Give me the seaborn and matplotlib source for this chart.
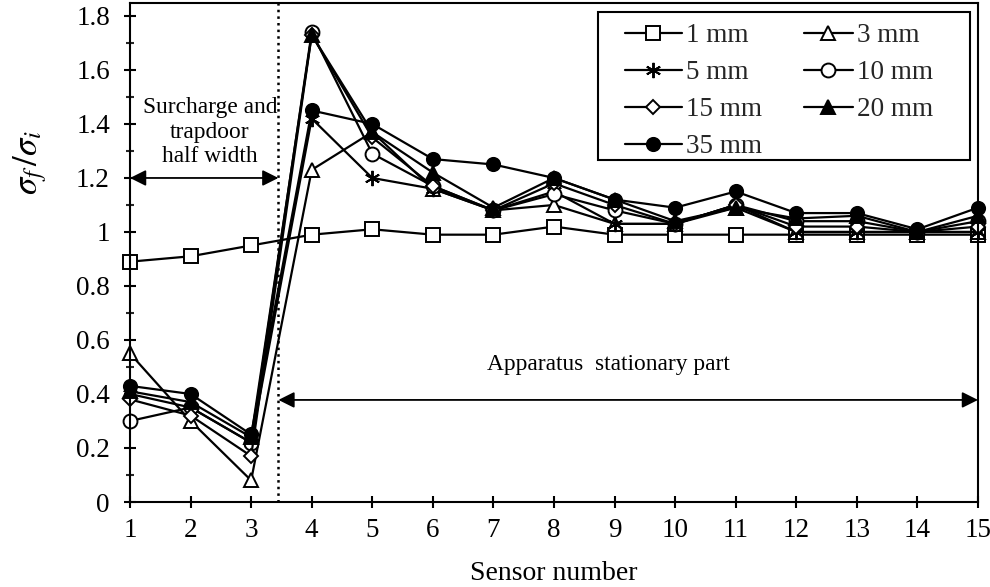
import numpy as np
import pandas as pd
import matplotlib
matplotlib.use("Agg")
import matplotlib.pyplot as plt
from matplotlib.legend_handler import HandlerLine2D
from matplotlib.patches import Rectangle
import seaborn as sns

sensors = list(range(1, 16))
d1 = [0.89, 0.91, 0.95, 0.99, 1.01, 0.99, 0.99, 1.02, 0.99, 0.99, 0.99, 0.99, 0.99, 0.99, 0.99]
d3 = [0.55, 0.30, 0.08, 1.23, 1.37, 1.16, 1.08, 1.10, 1.03, 1.03, 1.09, 1.00, 1.00, 1.00, 1.00]
d5 = [0.40, 0.35, 0.22, 1.42, 1.20, 1.16, 1.08, 1.15, 1.03, 1.03, 1.10, 1.00, 1.00, 1.00, 1.00]
d10 = [0.30, 0.35, 0.22, 1.74, 1.29, 1.17, 1.08, 1.14, 1.08, 1.03, 1.10, 1.04, 1.04, 1.00, 1.04]
d15 = [0.38, 0.32, 0.17, 1.73, 1.35, 1.17, 1.08, 1.18, 1.10, 1.03, 1.10, 1.02, 1.02, 1.00, 1.02]
d20 = [0.41, 0.37, 0.24, 1.73, 1.37, 1.22, 1.09, 1.20, 1.12, 1.04, 1.09, 1.05, 1.06, 1.00, 1.06]
d35 = [0.43, 0.40, 0.25, 1.45, 1.40, 1.27, 1.25, 1.20, 1.12, 1.09, 1.15, 1.07, 1.07, 1.01, 1.09]

labels = ["1 mm", "3 mm", "5 mm", "10 mm", "15 mm", "20 mm", "35 mm"]
series = [d1, d3, d5, d10, d15, d20, d35]
markers = ["s", "^", (6, 2, 0), "o", "D", "^", "o"]
faces = ["white", "white", "black", "white", "white", "black", "black"]
msizes = [10, 10, 11, 10, 7, 10, 9.5]


class PartialLine(HandlerLine2D):
    """Draw the legend line only over the right part of the handle box."""
    def __init__(self, frac, **kw):
        super().__init__(**kw)
        self.frac = frac

    def create_artists(self, legend, orig_handle, xdescent, ydescent, width, height,
                       fontsize, trans):
        w = width * self.frac
        return super().create_artists(legend, orig_handle, xdescent - (width - w), ydescent,
                                      w, height, fontsize, trans)


sns.set_theme(style="white")
plt.rcParams["font.family"] = ["Liberation Serif", "DejaVu Serif"]
plt.rcParams["mathtext.fontset"] = "stix"

fig = plt.figure(figsize=(9.9, 5.87), dpi=100)
ax = fig.add_axes([130 / 990, 1 - 502 / 587, (978 - 130) / 990, (502 - 3) / 587])

handles = {}
for lab, vals, m, fc, ms in zip(labels, series, markers, faces, msizes):
    df = pd.DataFrame({"Sensor": sensors, "ratio": vals})
    sns.lineplot(data=df, x="Sensor", y="ratio", ax=ax, color="black", linewidth=1.6,
                 marker=m, markersize=ms, markerfacecolor=fc, markeredgecolor="black",
                 markeredgewidth=1.4, label=lab, legend=False, clip_on=False, zorder=3)
    handles[lab] = ax.lines[-1]

ax.set_xlim(1, 15)
ax.set_ylim(0, 1.848)
ax.set_xticks(sensors)
ax.set_yticks(np.arange(0, 1.81, 0.2))
ax.set_yticklabels(["0", "0.2", "0.4", "0.6", "0.8", "1", "1.2", "1.4", "1.6", "1.8"])
ax.set_yticks(np.arange(0.1, 1.81, 0.2), minor=True)
ax.tick_params(axis="both", which="major", direction="inout", length=9, width=1.5,
               labelsize=19.5, colors="black", left=True, bottom=True)
ax.tick_params(axis="y", which="major", pad=10)
ax.tick_params(axis="x", which="major", pad=7)
ax.tick_params(axis="y", which="minor", direction="inout", length=6, width=1.5, left=True)
for s in ax.spines.values():
    s.set_color("black")
    s.set_linewidth(1.5)
    s.set_zorder(4)

ax.set_xlabel("Sensor number", fontsize=20, color="black", labelpad=13)
ax.set_ylabel(r"$\sigma_f\,/\sigma_i$", fontsize=25, color="black")
ax.yaxis.set_label_coords(-0.096, 0.68)

ax.axvline(3.45, color="black", linestyle=":", linewidth=1.8)
ax.annotate("", xy=(1.0, 1.2), xytext=(3.45, 1.2),
            arrowprops=dict(arrowstyle="<|-|>", color="black", lw=1.3,
                            mutation_scale=24, shrinkA=0, shrinkB=0))
ax.text(2.32, 1.37, "Surcharge and\ntrapdoor\nhalf width", ha="center", va="center",
        fontsize=16.8, color="black", linespacing=1.2)
ax.annotate("", xy=(3.45, 0.378), xytext=(15.0, 0.378),
            arrowprops=dict(arrowstyle="<|-|>", color="black", lw=1.3,
                            mutation_scale=24, shrinkA=0, shrinkB=0))
ax.text(8.9, 0.51, "Apparatus  stationary part", ha="center", va="center",
        fontsize=16.8, color="black")

# legend box drawn as a frame rectangle (axes coords)
ax.add_patch(Rectangle((0.5519, 0.685), 0.9906 - 0.5519, 0.982 - 0.685,
                       transform=ax.transAxes, fill=True, facecolor="white",
                       edgecolor="black", linewidth=1.5, zorder=5))

col1 = ["1 mm", "5 mm", "15 mm", "35 mm"]
col2 = ["3 mm", "10 mm", "20 mm"]
order = col1 + col2
hmap = {handles[k]: PartialLine(1.0) for k in col1}
hmap.update({handles[k]: PartialLine(0.86) for k in col2})
leg = ax.legend([handles[k] for k in order], order, ncol=2, loc="upper left",
                bbox_to_anchor=(0.5837, 0.959), frameon=False,
                fontsize=19.5, handlelength=2.1, handletextpad=0.15, columnspacing=1.25,
                labelspacing=0.44, borderpad=0, borderaxespad=0, handler_map=hmap)
leg.set_zorder(6)

fig.savefig("out.png", dpi=100)
